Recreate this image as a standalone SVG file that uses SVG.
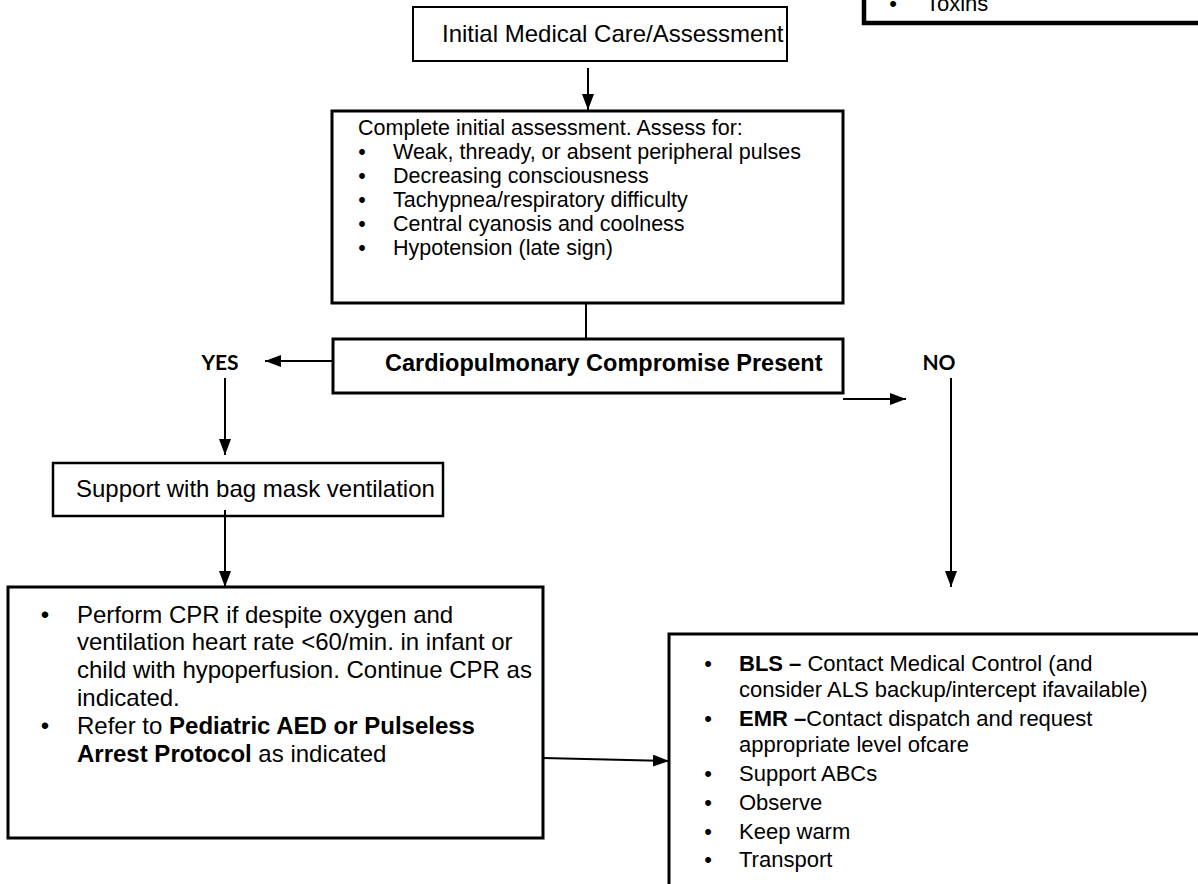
<svg xmlns="http://www.w3.org/2000/svg" width="1198" height="884" viewBox="0 0 1198 884">
<defs>
<style>
.box{fill:#fff;stroke:#000}
.t{font-family:"Liberation Sans",Arial,sans-serif;fill:#000}
.b{font-weight:bold}
.yn{font-family:Lato,"Liberation Sans",sans-serif;font-weight:bold;font-size:21px;fill:#000;text-anchor:middle}
.conn{stroke:#000;stroke-width:2;fill:none}
.arr{marker-end:url(#ah)}
</style>
<marker id="ah" viewBox="0 0 16 12" refX="16" refY="6" markerWidth="16" markerHeight="12" markerUnits="userSpaceOnUse" orient="auto">
<path d="M0,0 L16,6 L0,12 z" fill="#000"/>
</marker>
</defs>
<rect width="1198" height="884" fill="#fff"/>

<g id="causes-box">
<rect class="box" x="864" y="-20" width="400" height="43" stroke-width="4.5"/>
<text class="t" x="893" y="11" font-size="22" text-anchor="middle">•</text>
<text class="t" x="926" y="11" font-size="22">Toxins</text>
</g>

<g id="initial">
<rect class="box" x="413" y="7" width="374" height="54" stroke-width="2"/>
<text class="t" x="442" y="42" font-size="24">Initial Medical Care/Assessment</text>
</g>

<g id="assessment">
<rect class="box" x="332" y="111" width="511" height="192" stroke-width="3"/>
<g class="t" font-size="21.5">
<text x="358" y="135">Complete initial assessment. Assess for:</text>
<text x="362" y="159" text-anchor="middle">•</text><text x="393" y="159">Weak, thready, or absent peripheral pulses</text>
<text x="362" y="183" text-anchor="middle">•</text><text x="393" y="183">Decreasing consciousness</text>
<text x="362" y="207" text-anchor="middle">•</text><text x="393" y="207">Tachypnea/respiratory difficulty</text>
<text x="362" y="231" text-anchor="middle">•</text><text x="393" y="231">Central cyanosis and coolness</text>
<text x="362" y="255" text-anchor="middle">•</text><text x="393" y="255">Hypotension (late sign)</text>
</g>
</g>

<g id="decision">
<rect class="box" x="333" y="339" width="510" height="54" stroke-width="3"/>
<text class="t b" x="385" y="371" font-size="23.5">Cardiopulmonary Compromise Present</text>
</g>

<g id="yes-label"><text class="yn" x="220" y="370">YES</text></g>
<g id="no-label"><text class="yn" x="939" y="370">NO</text></g>

<g id="bag-mask">
<rect class="box" x="53" y="463" width="390" height="53" stroke-width="2.5"/>
<text class="t" x="76" y="497" font-size="24">Support with bag mask ventilation</text>
</g>

<g id="cpr">
<rect class="box" x="8" y="587" width="535" height="251" stroke-width="3"/>
<g class="t" font-size="24">
<text x="45" y="623" text-anchor="middle">•</text><text x="77" y="623">Perform CPR if despite oxygen and</text>
<text x="77" y="650">ventilation heart rate &lt;60/min. in infant or</text>
<text x="77" y="678">child with hypoperfusion. Continue CPR as</text>
<text x="77" y="706">indicated.</text>
<text x="45" y="734" text-anchor="middle">•</text><text x="77" y="734">Refer to <tspan class="b">Pediatric AED or Pulseless</tspan></text>
<text x="77" y="762"><tspan class="b">Arrest Protocol</tspan> as indicated</text>
</g>
</g>

<g id="no-actions">
<rect class="box" x="669" y="634" width="600" height="300" stroke-width="3"/>
<g class="t" font-size="22">
<text x="708" y="671" text-anchor="middle">•</text><text x="739" y="671"><tspan class="b">BLS –</tspan> Contact Medical Control (and</text>
<text x="739" y="697">consider ALS backup/intercept ifavailable)</text>
<text x="708" y="726" text-anchor="middle">•</text><text x="739" y="726"><tspan class="b">EMR –</tspan>Contact dispatch and request</text>
<text x="739" y="752">appropriate level ofcare</text>
<text x="708" y="781" text-anchor="middle">•</text><text x="739" y="781">Support ABCs</text>
<text x="708" y="810" text-anchor="middle">•</text><text x="739" y="810">Observe</text>
<text x="708" y="839" text-anchor="middle">•</text><text x="739" y="839">Keep warm</text>
<text x="708" y="867" text-anchor="middle">•</text><text x="739" y="867">Transport</text>
</g>
</g>

<g id="connectors">
<path class="conn arr" d="M588,68 L588,110"/>
<path class="conn" d="M586,303 L586,339"/>
<path class="conn arr" d="M333,361 L265,361"/>
<path class="conn arr" d="M225,378 L225,455"/>
<path class="conn arr" d="M225,510 L225,587"/>
<path class="conn arr" d="M843,399 L906,399"/>
<path class="conn arr" d="M951,378 L951,587"/>
<path class="conn arr" d="M543,758 L669,761"/>
</g>
</svg>
